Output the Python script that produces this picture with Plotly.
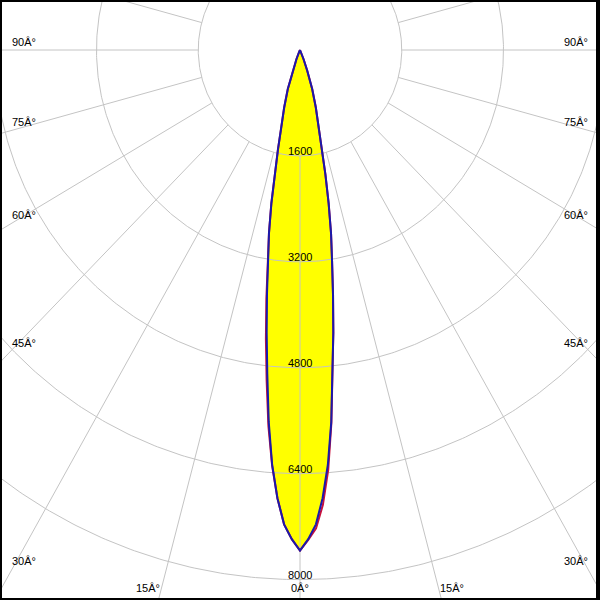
import numpy as np
import plotly.graph_objects as go

# ---- data ----
angles = [0, 1, 2, 3, 4, 5, 6, 7, 8, 9, 10, 11, 12, 13, 14, 16, 18, 20, 22, 24, 26, 30, 40, 50, 60, 70, 80, 90]
blue_I = [7560, 7390, 7170, 6780, 6280, 5640, 4920, 4300, 3730, 3220, 2810, 2360, 1920, 1540, 1240,
          900, 620, 330, 150, 50, 10, 0, 0, 0, 0, 0, 0, 0]
red_right_I = [7560, 7400, 7230, 6880, 6360, 5660, 4920, 4300, 3730, 3220, 2810, 2360, 1920, 1540, 1240,
               900, 620, 330, 150, 50, 10, 0, 0, 0, 0, 0, 0, 0]
red_left_I = [7560, 7390, 7170, 6780, 6290, 5700, 5020, 4400, 3800, 3240, 2810, 2360, 1920, 1540, 1240,
              900, 620, 330, 150, 50, 10, 0, 0, 0, 0, 0, 0, 0]
ring_values = [1600, 3200, 4800, 6400, 8000]
ring_labels = ["1600", "3200", "4800", "6400", "8000"]
spoke_step = 15
side_angles = [90, 75, 60, 45, 30]
side_labels = ["90Â°", "75Â°", "60Â°", "45Â°", "30Â°"]
bottom_angles = [-15, 0, 15]
bottom_labels = ["15Â°", "0Â°", "15Â°"]

# ---- geometry of the frame ----
W = H = 600
CX, CY = 300, 50          # pixel position of the centre
SX, SY = 0.0636, 0.0662   # pixels per cd
x_range = [(0 - CX) / SX, (W - CX) / SX]
y_range = [-(H - CY) / SY, CY / SY]


def pol(r, deg):
    t = np.radians(np.asarray(deg, dtype=float))
    r = np.asarray(r, dtype=float)
    return r * np.sin(t), -r * np.cos(t)


def outline(right, left):
    a = np.array(angles, dtype=float)
    rr = np.array(right, dtype=float)
    ll = np.array(left, dtype=float)
    deg = np.concatenate([a[::-1], -a[1:]])
    r = np.concatenate([rr[::-1], ll[1:]])
    return pol(r, deg)


fig = go.Figure()

bx, by = outline(blue_I, blue_I)
fig.add_trace(go.Scatter(x=bx, y=by, mode="lines", fill="toself", fillcolor="#ffff00",
                         line=dict(width=0, color="#ffff00"), hoverinfo="skip", showlegend=False))

# grid
gx, gy = [], []
th = np.linspace(0, 360, 721)
for rv in ring_values:
    x, y = pol(np.full_like(th, rv), th)
    gx += list(x) + [None]
    gy += list(y) + [None]
for a in range(0, 360, spoke_step):
    x, y = pol([ring_values[0], 14000], [a, a])
    gx += list(x) + [None]
    gy += list(y) + [None]
fig.add_trace(go.Scatter(x=gx, y=gy, mode="lines", line=dict(color="#c4c4c4", width=1),
                         hoverinfo="skip", showlegend=False))

rx, ry = outline(red_right_I, red_left_I)
fig.add_trace(go.Scatter(x=rx, y=ry, mode="lines", line=dict(color="#c8103c", width=2),
                         hoverinfo="skip", showlegend=False))
fig.add_trace(go.Scatter(x=bx, y=by, mode="lines", line=dict(color="#1a1aaa", width=2),
                         hoverinfo="skip", showlegend=False))

font = dict(family="Liberation Sans, Arial, sans-serif", size=11, color="black")
ann = []
for rv, lab in zip(ring_values, ring_labels):
    ann.append(dict(x=0, y=-rv + 5 / SY, text=lab, showarrow=False, xanchor="center",
                    yanchor="middle", font=font))


def px2d(px, py):
    return (px - CX) / SX, -(py - CY) / SY


for a, lab in zip(side_angles, side_labels):
    if a == 90:
        py = CY - 8
    else:
        cross = CY + (CX - 10) * (SY / SX) / np.tan(np.radians(a))
        py = min(cross - 9, 561)
    xl, yd = px2d(10, py)
    xr, _ = px2d(W - 10, py)
    ann.append(dict(x=xl, y=yd, text=lab, showarrow=False, xanchor="left", yanchor="middle", font=font))
    ann.append(dict(x=xr, y=yd, text=lab, showarrow=False, xanchor="right", yanchor="middle", font=font))

for a, lab in zip(bottom_angles, bottom_labels):
    py = 588
    pxs = CX + (py - CY) * (SX / SY) * np.tan(np.radians(a))
    xd, yd = px2d(pxs, py)
    anchor = "center" if a == 0 else ("right" if a < 0 else "left")
    ann.append(dict(x=xd, y=yd, text=lab, showarrow=False, xanchor=anchor, yanchor="middle", font=font))

shapes = [
    dict(type="rect", xref="paper", yref="paper", x0=0, x1=2 / W, y0=0, y1=1, fillcolor="black", line_width=0),
    dict(type="rect", xref="paper", yref="paper", x0=1 - 4 / W, x1=1, y0=0, y1=1, fillcolor="black", line_width=0),
    dict(type="rect", xref="paper", yref="paper", x0=0, x1=1, y0=1 - 2 / H, y1=1, fillcolor="black", line_width=0),
    dict(type="rect", xref="paper", yref="paper", x0=0, x1=1, y0=0, y1=2 / H, fillcolor="black", line_width=0),
]

fig.update_layout(
    width=W, height=H, margin=dict(l=0, r=0, t=0, b=0),
    paper_bgcolor="white", plot_bgcolor="white",
    xaxis=dict(range=x_range, visible=False, fixedrange=True),
    yaxis=dict(range=y_range, visible=False, fixedrange=True),
    annotations=ann, shapes=shapes, showlegend=False,
)

fig.write_html("out.html", config={"displayModeBar": False},
               post_script="document.body.style.margin='0';document.body.style.overflow='hidden';")
